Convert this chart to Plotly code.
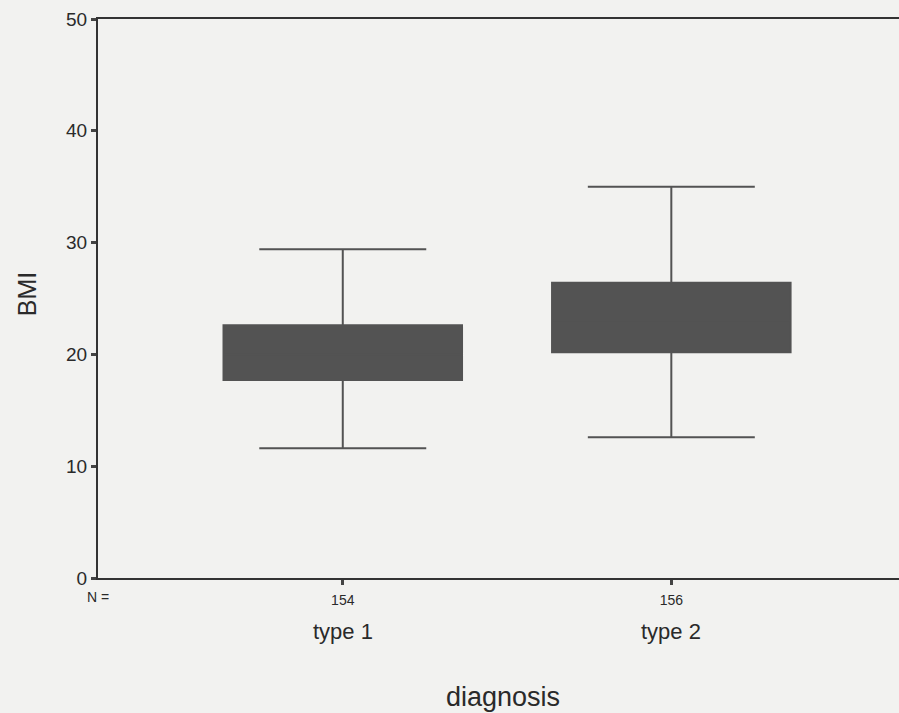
import plotly.graph_objects as go

# Data
categories = ["type 1", "type 2"]
n_values = ["154", "156"]
lower_whisker = [11.6, 12.6]
q1_values = [17.7, 20.2]
median_values = [20.0, 23.0]
q3_values = [22.6, 26.4]
upper_whisker = [29.4, 35.0]
y_ticks = [0, 10, 20, 30, 40, 50]

positions = list(range(len(categories)))

BG = "#f2f2f0"
INK = "#2a2a2a"
BOX = "#535353"
FONT = "Liberation Sans, Arial, sans-serif"

fig = go.Figure()
fig.add_trace(go.Box(
    x=positions,
    q1=q1_values,
    median=median_values,
    q3=q3_values,
    lowerfence=lower_whisker,
    upperfence=upper_whisker,
    fillcolor=BOX,
    line=dict(color=BOX, width=2),
    width=0.726,
    whiskerwidth=0.70,
    boxpoints=False,
    showlegend=False,
    hoverinfo="skip",
))

# category names under the N labels
for p, c in zip(positions, categories):
    fig.add_annotation(x=p, xref="x", y=-0.0966, yref="paper", text=c,
                       showarrow=False, font=dict(size=22, color=INK, family=FONT),
                       xanchor="center", yanchor="middle")

fig.add_annotation(x=0.0, xref="paper", y=-0.034, yref="paper", text="N =",
                   showarrow=False, font=dict(size=14, color=INK, family=FONT),
                   xanchor="center", yanchor="middle")
fig.add_annotation(x=0.505, xref="paper", y=-0.213, yref="paper", text="diagnosis",
                   showarrow=False, font=dict(size=27, color=INK, family=FONT),
                   xanchor="center", yanchor="middle")
fig.add_annotation(x=-0.0885, xref="paper", y=0.508, yref="paper", text="BMI",
                   textangle=-90, showarrow=False,
                   font=dict(size=25, color=INK, family=FONT),
                   xanchor="center", yanchor="middle")

fig.update_layout(
    width=899, height=713,
    margin=dict(l=98, r=0, t=19, b=135),
    paper_bgcolor=BG, plot_bgcolor=BG,
    font=dict(family=FONT, color=INK),
    xaxis=dict(
        range=[-0.745, 1.693],
        tickvals=positions, ticktext=n_values,
        tickfont=dict(size=14, color=INK),
        ticks="outside", ticklen=5, tickwidth=3, tickcolor="#444",
        ticklabelstandoff=3,
        showline=True, linecolor="#333", linewidth=2, mirror=True,
        showgrid=False, zeroline=False,
    ),
    yaxis=dict(
        range=[0, 50],
        tickvals=y_ticks,
        tickfont=dict(size=19, color=INK),
        ticks="outside", ticklen=5, tickwidth=3, tickcolor="#444",
        showline=True, linecolor="#333", linewidth=2,
        showgrid=False, zeroline=False,
    ),
)

fig.write_html(
    "out.html",
    config={"displayModeBar": False},
    post_script="document.body.style.margin='0';document.body.style.overflow='hidden';"
                "document.body.style.background='" + BG + "';",
)
